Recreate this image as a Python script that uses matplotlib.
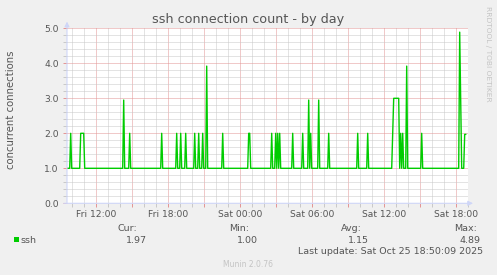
import matplotlib
matplotlib.use('Agg')
import matplotlib.pyplot as plt
from matplotlib.ticker import MultipleLocator, FuncFormatter
from matplotlib.patches import Rectangle

# data: minutes since Fri 00:00 and connection count (vertices of the line)
minutes = [578, 590, 595, 600, 640, 645, 660, 665,
           855, 860, 865, 885, 890, 895,
           1045, 1050, 1055, 1120, 1125, 1130, 1140, 1145, 1150,
           1165, 1170, 1175, 1210, 1215, 1220, 1230, 1235, 1240,
           1250, 1255, 1260, 1270, 1275, 1280,
           1350, 1355, 1360, 1480, 1485, 1490, 1495,
           1595, 1600, 1605, 1615, 1620, 1625, 1630, 1635, 1640, 1645,
           1700, 1705, 1710, 1750, 1755, 1760,
           1780, 1785, 1790, 1795, 1800, 1830, 1835, 1840,
           1880, 1885, 1890, 2025, 2030, 2035, 2075, 2080, 2085,
           2200, 2210, 2235, 2240, 2245, 2250, 2255, 2260,
           2270, 2275, 2280, 2345, 2350, 2355,
           2535, 2540, 2550, 2560, 2565, 2570]
conns = [1, 1, 2, 1, 1, 2, 2, 1,
         1, 2.95, 1, 1, 2, 1,
         1, 2, 1, 1, 2, 1, 1, 2, 1,
         1, 2, 1, 1, 2, 1, 1, 2, 1,
         1, 2, 1, 1, 3.92, 1,
         1, 2, 1, 1, 2, 2, 1,
         1, 2, 1, 1, 2, 1, 2, 1, 2, 1,
         1, 2, 1, 1, 2, 1,
         1, 2.95, 1, 2, 1, 1, 2.95, 1,
         1, 2, 1, 1, 2, 1, 1, 2, 1,
         1, 3, 3, 1, 2, 1, 2, 1,
         1, 3.92, 1, 1, 2, 1,
         1, 4.89, 1, 1, 1.97, 1.97]

tick_minutes = [720, 1080, 1440, 1800, 2160, 2520]
tick_labels = ['Fri 12:00', 'Fri 18:00', 'Sat 00:00', 'Sat 06:00', 'Sat 12:00', 'Sat 18:00']

stat_names = ['Cur:', 'Min:', 'Avg:', 'Max:']
stat_values = ['1.97', '1.00', '1.15', '4.89']

title = 'ssh connection count - by day'
ylabel = 'concurrent connections'
series_name = 'ssh'
last_update = 'Last update: Sat Oct 25 18:50:09 2025'

BG = '#F0F0F0'
FONT = '#555555'
GREEN = '#00CC00'
MGRID = '#E39494'
GRID = '#C8C8C8'
AXIS = '#CFD6F8'

W, H = 497, 275
fig = plt.figure(figsize=(W / 100, H / 100), dpi=100, facecolor=BG)


def fx(px):
    return px / W


def fy(py):
    return 1 - py / H


ax = fig.add_axes([fx(67), fy(203.3), 401 / W, 175 / H])
ax.set_facecolor('white')
ax.plot(minutes, conns, color=GREEN, lw=1.0, zorder=3)
ax.set_xlim(576.5, 2581.5)
ax.set_ylim(0, 5)

# grid: minor every hour / 0.2, major every 3 hours / 1.0
ax.xaxis.set_major_locator(MultipleLocator(180))
ax.xaxis.set_minor_locator(MultipleLocator(60))
ax.yaxis.set_major_locator(MultipleLocator(1))
ax.yaxis.set_minor_locator(MultipleLocator(0.2))
lbl = dict(zip(tick_minutes, tick_labels))
ax.xaxis.set_major_formatter(FuncFormatter(lambda v, p: lbl.get(int(round(v)), '')))
ax.yaxis.set_major_formatter(FuncFormatter(lambda v, p: f'{v:.1f}'))
ax.grid(which='minor', color=GRID, linestyle=(0, (1, 1)), lw=0.72)
ax.grid(which='major', color=MGRID, linestyle=(0, (1, 1)), lw=0.72)
ax.set_axisbelow(True)
ax.tick_params(which='major', direction='out', length=3, width=0.7, color=MGRID,
               labelsize=6.6, labelcolor=FONT)
ax.tick_params(which='minor', direction='out', length=3, width=0.7, color=GRID)
ax.tick_params(axis='y', pad=3)
ax.tick_params(axis='x', pad=2)
for s in ax.spines.values():
    s.set_visible(False)

# axis lines with arrows
arrow = dict(arrowstyle='-|>', color=AXIS, lw=0.8, mutation_scale=7.2, shrinkA=0, shrinkB=0)
ax.annotate('', xy=(0, 1.038), xytext=(0, 0), xycoords='axes fraction',
            arrowprops=arrow, annotation_clip=False, zorder=4)
ax.annotate('', xy=(1.0125, 0), xytext=(-0.008, 0), xycoords='axes fraction',
            arrowprops=arrow, annotation_clip=False, zorder=4)

# titles
fig.text(fx(248.5), fy(23.5), title, ha='center', va='baseline', fontsize=9.2, color=FONT)
fig.text(fx(11), fy(110), ylabel, ha='center', va='center', rotation=90, fontsize=7.3, color=FONT)
fig.text(fx(488), fy(53.5), 'RRDTOOL / TOBI OETIKER', ha='center', va='center',
         rotation=270, fontsize=5.4, color='#C4C4C4')

# legend
fig.patches.append(Rectangle((fx(14), fy(242)), 5.3 / W, 5.3 / H, transform=fig.transFigure,
                             facecolor=GREEN, edgecolor='none'))
fig.text(fx(20.5), fy(242.7), series_name, ha='left', va='baseline', fontsize=6.8, color=FONT)
name_right = [137, 249.5, 362, 477]
value_right = [147, 258, 369, 480]
for n, v, nr, vr in zip(stat_names, stat_values, name_right, value_right):
    fig.text(fx(nr), fy(231), n, ha='right', va='baseline', fontsize=6.8, color=FONT)
    fig.text(fx(vr), fy(242.7), v, ha='right', va='baseline', fontsize=6.8, color=FONT)
fig.text(fx(483), fy(254.3), last_update, ha='right', va='baseline', fontsize=6.8, color=FONT)
fig.text(fx(248), fy(267), 'Munin 2.0.76', ha='center', va='baseline', fontsize=5.5, color='#C4C4C4')

fig.savefig('out.png', dpi=100, facecolor=BG)
